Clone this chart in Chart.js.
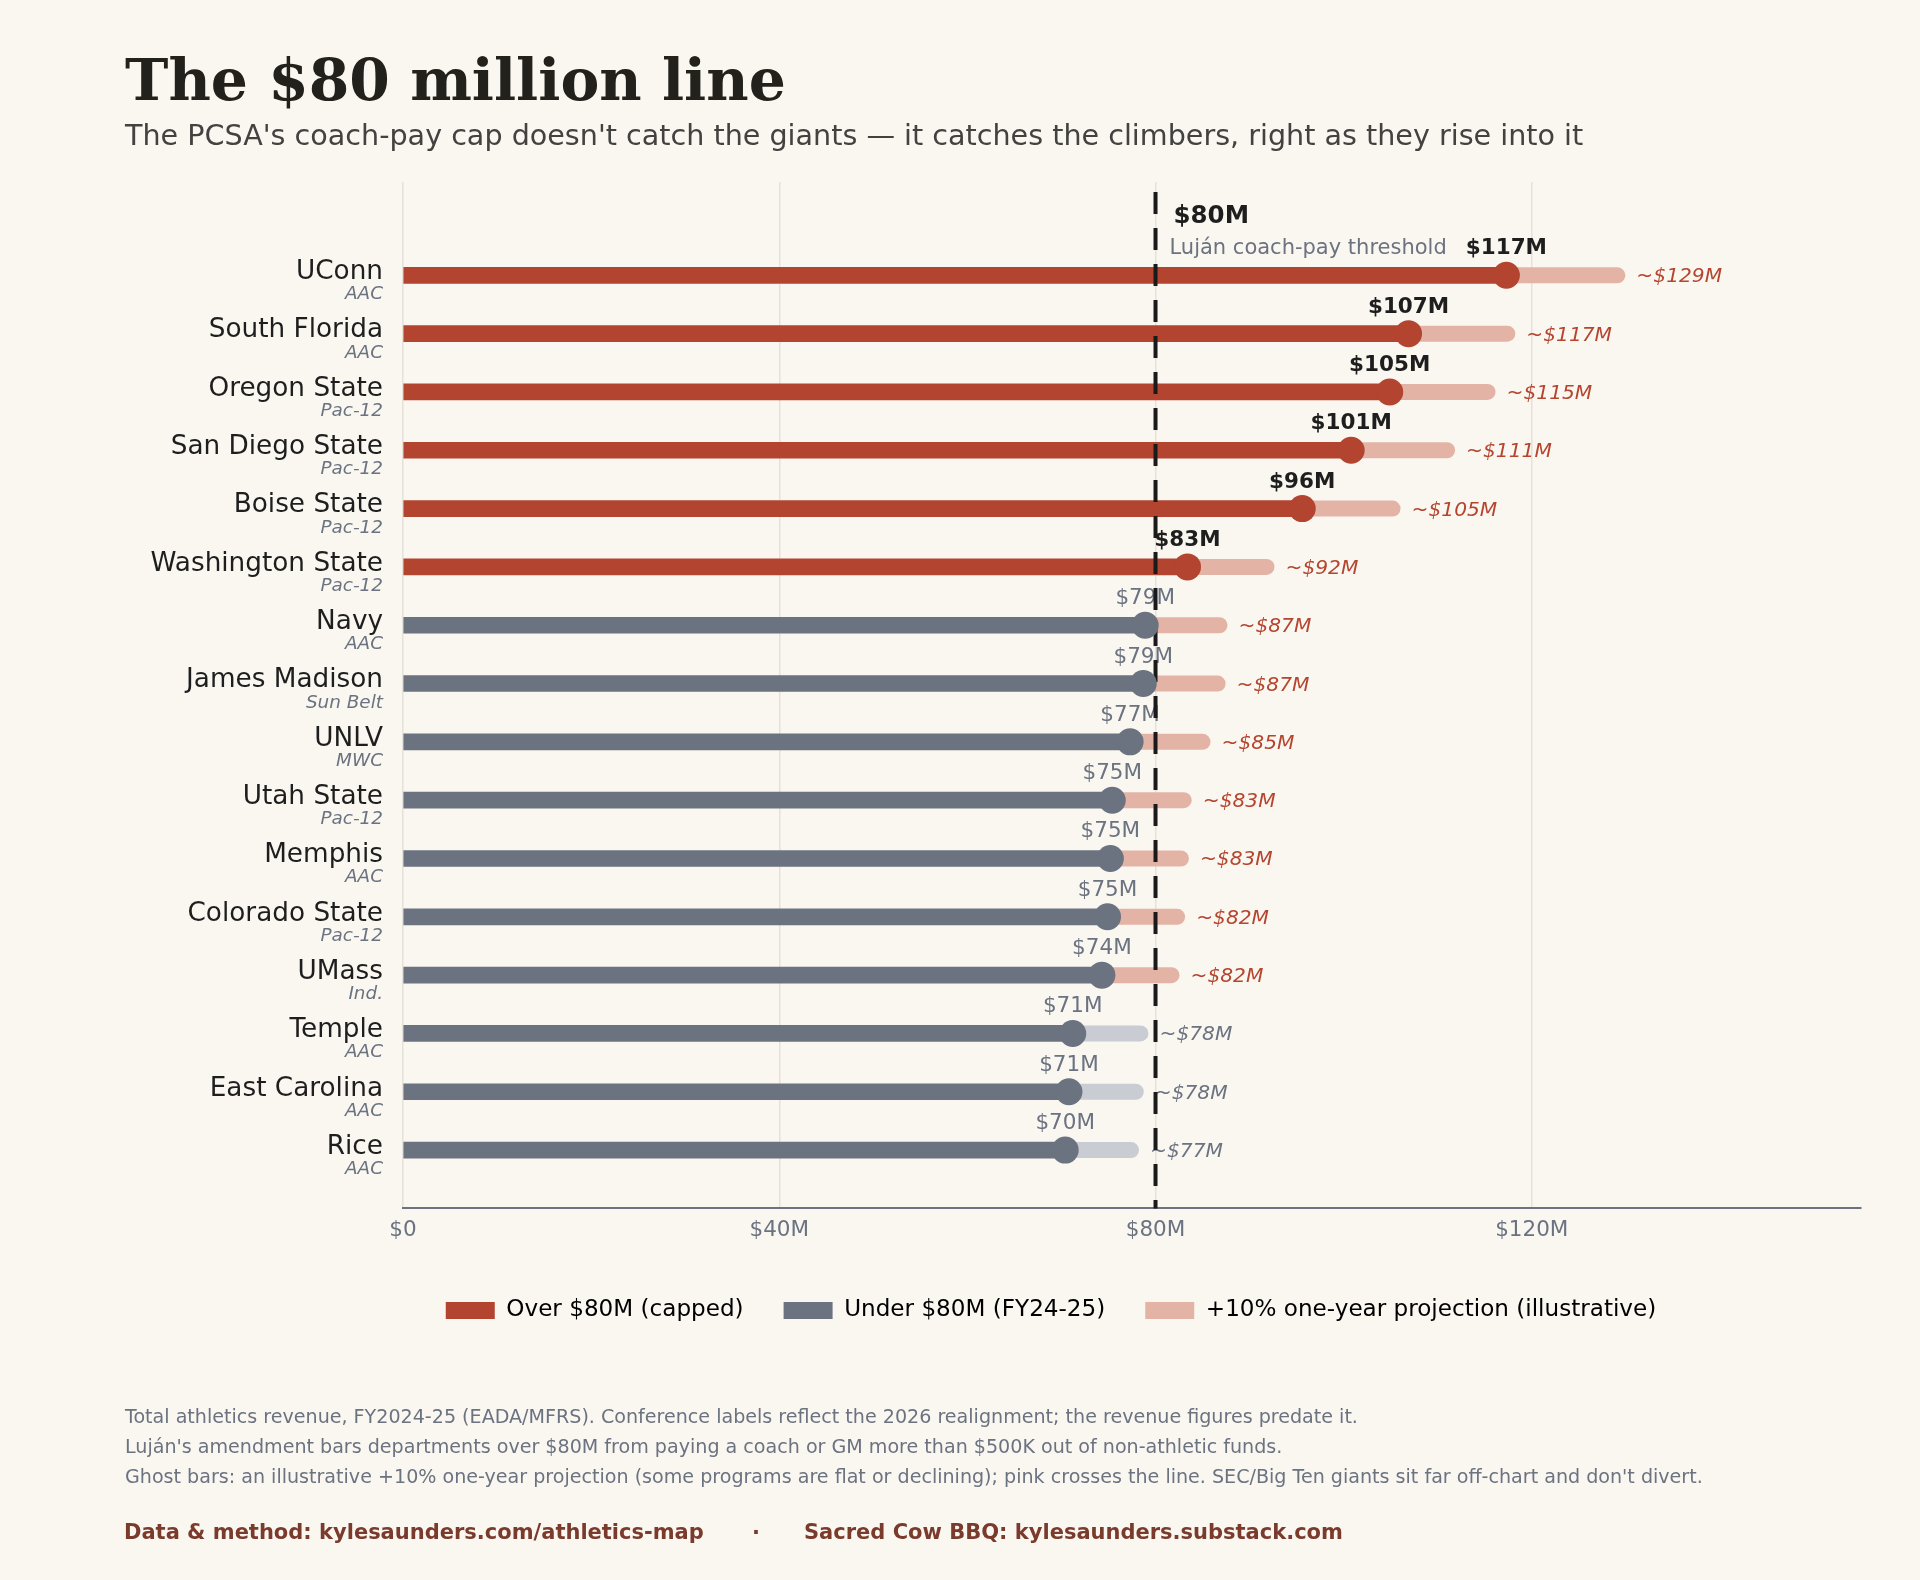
<!DOCTYPE html>
<html>
<head>
<meta charset="utf-8">
<script src="https://cdn.jsdelivr.net/npm/chart.js@4.4.1/dist/chart.umd.min.js"></script>
<style>
  html, body { margin: 0; padding: 0; background: #faf7f1; }
  body { width: 1920px; height: 1580px; position: relative; overflow: hidden; font-family: "DejaVu Sans", sans-serif; }
  #wrap { position: absolute; left: 0; top: 0; width: 1920px; height: 1580px; }
  .t { position: absolute; left: 125px; white-space: nowrap; line-height: 1; }
  #title { top: 51px; font-family: "DejaVu Serif", serif; font-weight: bold; font-size: 58.3px; color: #23211c; }
  #subtitle { top: 121px; font-size: 28.6px; color: #444240; }
  .note { font-size: 19.1px; color: #6b7280; }
  .foot { font-size: 21px; font-weight: bold; color: #7a3b2d; top: 1522px; }
</style>
</head>
<body>
<div id="wrap"><canvas id="chart"></canvas></div>
<div class="t" id="title">The $80 million line</div>
<div class="t" id="subtitle">The PCSA's coach-pay cap doesn't catch the giants — it catches the climbers, right as they rise into it</div>
<div class="t note" style="top:1407px">Total athletics revenue, FY2024-25 (EADA/MFRS). Conference labels reflect the 2026 realignment; the revenue figures predate it.</div>
<div class="t note" style="top:1437px">Luján's amendment bars departments over $80M from paying a coach or GM more than $500K out of non-athletic funds.</div>
<div class="t note" style="top:1467px">Ghost bars: an illustrative +10% one-year projection (some programs are flat or declining); pink crosses the line. SEC/Big Ten giants sit far off-chart and don't divert.</div>
<div class="t foot" style="left:124px">Data &amp; method: kylesaunders.com/athletics-map</div>
<div class="t foot" style="left:752px">·</div>
<div class="t foot" style="left:804px">Sacred Cow BBQ: kylesaunders.substack.com</div>

<script>
// schools, top to bottom
const schools = ['UConn', 'South Florida', 'Oregon State', 'San Diego State', 'Boise State', 'Washington State',
  'Navy', 'James Madison', 'UNLV', 'Utah State', 'Memphis', 'Colorado State', 'UMass', 'Temple', 'East Carolina', 'Rice'];
const conferences = ['AAC', 'AAC', 'Pac-12', 'Pac-12', 'Pac-12', 'Pac-12',
  'AAC', 'Sun Belt', 'MWC', 'Pac-12', 'AAC', 'Pac-12', 'Ind.', 'AAC', 'AAC', 'AAC'];
// FY24-25 revenue, $M
const revenue = [117.3, 106.9, 104.9, 100.8, 95.6, 83.4, 78.9, 78.7, 77.3, 75.4, 75.2, 74.9, 74.3, 71.2, 70.8, 70.4];
// +10% projection, $M
const projected = [129.1, 117.4, 115.3, 111.0, 105.2, 91.8, 86.8, 86.6, 85.0, 83.0, 82.7, 82.3, 81.7, 78.4, 77.9, 77.4];
const cap = 80;
const xTicks = [0, 40, 80, 120];
const legendNames = ['Over $80M (capped)', 'Under $80M (FY24-25)', '+10% one-year projection (illustrative)'];

const RED = '#b24430', GRAY = '#6b7280', PINK = '#e3b4a6', LIGHT = '#c9ccd3';
const legendColors = [RED, GRAY, PINK];
const legendCenter = 1051;

// ghost segments: actual -> projection, broken by a gap point
const ghostData = [];
revenue.forEach((v, i) => {
  ghostData.push({x: v, y: i}, {x: projected[i], y: i}, {x: null, y: i});
});

const overlay = {
  id: 'overlay',
  afterLayout(chart) {
    // legend sits a bit right of the canvas centre
    const lg = chart.legend;
    const d = legendCenter - (lg.left + lg.right) / 2;
    lg.left += d;
    lg.right += d;
  },
  afterDatasetDraw(chart, args) {
    if (args.index !== 1) return;
    const ctx = chart.ctx, xs = chart.scales.x, ys = chart.scales.y, area = chart.chartArea;
    ctx.save();
    revenue.forEach((v, i) => {
      const px = xs.getPixelForValue(v), py = ys.getPixelForValue(i);
      ctx.textBaseline = 'alphabetic';
      ctx.textAlign = 'center';
      ctx.font = (v > cap ? 'bold ' : '') + '21.5px "DejaVu Sans"';
      ctx.fillStyle = v > cap ? '#1e1e1e' : GRAY;
      ctx.fillText('$' + Math.round(v) + 'M', px, py - 21);
      const gx = xs.getPixelForValue(projected[i]);
      ctx.textAlign = 'left';
      ctx.font = 'italic 20.2px "DejaVu Sans"';
      ctx.fillStyle = projected[i] > cap ? '#b5452f' : GRAY;
      ctx.fillText('~$' + Math.round(projected[i]) + 'M', gx + 19, py + 7);
    });
    // threshold
    const lx = xs.getPixelForValue(cap);
    ctx.beginPath();
    ctx.setLineDash([22, 14]);
    ctx.lineWidth = 4;
    ctx.strokeStyle = '#1a1a1a';
    ctx.moveTo(lx, area.top + 10);
    ctx.lineTo(lx, area.bottom);
    ctx.stroke();
    ctx.setLineDash([]);
    ctx.textAlign = 'left';
    ctx.font = 'bold 24.5px "DejaVu Sans"';
    ctx.fillStyle = '#1e1e1e';
    ctx.fillText('$80M', lx + 18, area.top + 41);
    ctx.font = '21px "DejaVu Sans"';
    ctx.fillStyle = GRAY;
    ctx.fillText('Luján coach-pay threshold', lx + 14, area.top + 72);
    ctx.restore();
  },
  afterDraw(chart) {
    const ctx = chart.ctx, ys = chart.scales.y;
    ctx.save();
    ctx.font = 'italic 18.4px "DejaVu Sans"';
    ctx.fillStyle = GRAY;
    ctx.textAlign = 'right';
    ctx.textBaseline = 'alphabetic';
    conferences.forEach((c, i) => {
      ctx.fillText(c, ys.right - 20, ys.getPixelForValue(i) + 24);
    });
    ctx.restore();
  }
};

new Chart(document.getElementById('chart'), {
  type: 'bar',
  data: {
    datasets: [
      {
        type: 'line',
        data: ghostData,
        order: 3,
        borderWidth: 16,
        borderCapStyle: 'round',
        pointRadius: 0,
        spanGaps: false,
        segment: {
          borderColor: c => projected[Math.floor(c.p0DataIndex / 3)] > cap ? PINK : LIGHT
        }
      },
      {
        type: 'bar',
        indexAxis: 'y',
        data: revenue.map((v, i) => ({x: v, y: i})),
        order: 2,
        barThickness: 16,
        backgroundColor: revenue.map(v => v > cap ? RED : GRAY),
        borderWidth: 0
      },
      {
        type: 'scatter',
        data: revenue.map((v, i) => ({x: v, y: i})),
        order: 1,
        pointRadius: 13.5,
        pointHoverRadius: 13.5,
        borderWidth: 0,
        backgroundColor: revenue.map(v => v > cap ? RED : GRAY)
      }
    ]
  },
  options: {
    responsive: true,
    maintainAspectRatio: false,
    animation: false,
    layout: { padding: { top: 182, right: 59, left: 0, bottom: 248 } },
    scales: {
      x: {
        type: 'linear',
        min: 0,
        max: 155,
        offset: false,
        afterBuildTicks: s => { s.ticks = xTicks.map(v => ({value: v})); },
        afterFit: s => { s.height = 50.5; },
        grid: { color: '#e6e2d9', lineWidth: 1.5, drawTicks: false, offset: false },
        border: { display: true, color: GRAY, width: 2 },
        ticks: {
          padding: 9,
          color: GRAY,
          font: { family: 'DejaVu Sans', size: 21.5 },
          callback: v => v === 0 ? '$0' : '$' + v + 'M'
        }
      },
      y: {
        type: 'linear',
        reverse: true,
        min: -1.6,
        max: 16,
        offset: false,
        afterBuildTicks: s => { s.ticks = schools.map((n, i) => ({value: i})); },
        afterFit: s => { s.width = 403; },
        grid: { display: false, drawTicks: false, offset: false },
        border: { display: false },
        ticks: {
          padding: 20,
          labelOffset: -3,
          color: '#1e1e1e',
          font: { family: 'DejaVu Sans', size: 26.3 },
          callback: v => schools[v]
        }
      }
    },
    plugins: {
      tooltip: { enabled: false },
      legend: {
        position: 'bottom',
        labels: {
          boxWidth: 49,
          boxHeight: 17,
          padding: 40,
          color: '#111',
          font: { family: 'DejaVu Sans', size: 23.1 },
          generateLabels: () => legendNames.map((t, k) => ({
            text: t, fillStyle: legendColors[k], strokeStyle: legendColors[k], lineWidth: 0, hidden: false
          }))
        }
      }
    }
  },
  plugins: [overlay]
});
</script>
</body>
</html>
